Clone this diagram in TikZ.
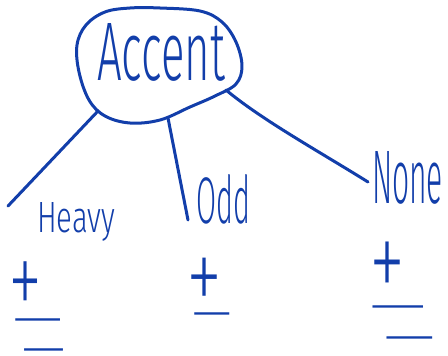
\documentclass[tikz,border=0pt]{standalone}
\usepackage{fontspec}
\setmainfont{Fira Sans}[UprightFont={* Light}]
\newfontfamily\symfont{Fira Sans}[UprightFont={* ExtraLight}]
\definecolor{pen}{RGB}{18,62,170}
\newdimen\penaxis
\newdimen\penhalf
% minus: ink centred on the node, stretched sideways by #1
\newcommand{\penminus}[1]{\sbox0{−}\global\penaxis=\dimexpr\ht0-0.03em\relax
  \scalebox{#1}[1]{\raisebox{-\penaxis}[0.05em][0.05em]{−}}}
% plus: box width #1, ink height #2, ink centred on the node
\newcommand{\penplus}[2]{\sbox0{−}\sbox2{+}%
  \global\penaxis=\dimexpr\ht0-0.03em\relax
  \global\penhalf=\dimexpr\ht2-\penaxis\relax
  \resizebox*{#1}{#2}{\raisebox{-\penaxis}[\penhalf][\penhalf]{+}}}
\tikzset{
  ink/.style={text=pen, inner sep=0pt, outer sep=0pt},
  word/.style={ink, anchor=base west},
  sym/.style={ink, font=\symfont\fontsize{56}{56}\selectfont},
  wire/.style={draw=pen, line width=3pt, line cap=round, line join=round}
}
\begin{document}
\begin{tikzpicture}[x=1pt,y=-1pt]
\useasboundingbox (0,0) rectangle (448,356);
% bubble round the word
\draw[wire] plot[smooth cycle, tension=0.6] coordinates {(77,45) (86,25) (105,12) (130,8) (160,8) (200,11) (222,22) (236,42) (242,66) (236,84) (215,96) (190,107) (160,120) (130,123) (105,116) (89,100) (79,72)};
\node[word] (acct) at (97,80) {\resizebox{128pt}{57pt}{Accent}};
\coordinate (accL) at (98,111);
\coordinate (accM) at (168,118);
\coordinate (accR) at (226,90);
\node[word] (heavy) at (37,232) {\resizebox{78pt}{30pt}{Heavy}};
\node[word] (odd) at (196,223) {\resizebox{54pt}{49pt}{Odd}};
\node[word] (none) at (372,203) {\resizebox{71pt}{52pt}{None}};
\coordinate (hl) at (8,206);
\coordinate (ol) at (188,220);
\coordinate (nl) at (368,182);
\draw[wire] (accL) -- (hl);
\draw[wire] (accM) -- (ol);
\draw[wire] (accR) .. controls (262,120) and (320,152) .. (nl);
\node[sym] (hp) at (26,282) {\penplus{34pt}{41pt}};
\node[sym] (hm1) at (38,320) {\penminus{2.3}};
\node[sym] (hm2) at (44,350) {\penminus{2.0}};
\node[sym] (op) at (205,278) {\penplus{36pt}{40pt}};
\node[sym] (om) at (212,314) {\penminus{1.8}};
\node[sym] (np) at (388,263) {\penplus{36pt}{43pt}};
\node[sym] (nm1) at (398,307) {\penminus{2.6}};
\node[sym] (nm2) at (410,338) {\penminus{2.35}};
\end{tikzpicture}
\end{document}
